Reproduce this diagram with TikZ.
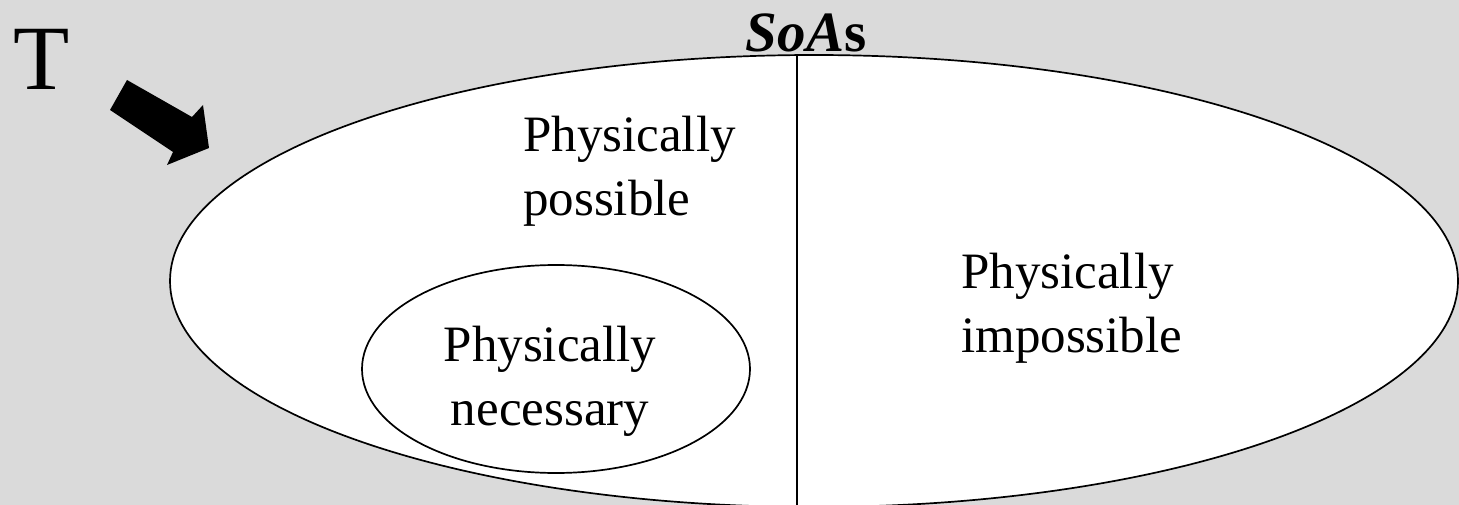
\documentclass[tikz,border=0pt]{standalone}
\usepackage{fontspec}
\setmainfont{Liberation Serif}
\usetikzlibrary{shapes.geometric}
\definecolor{bggray}{RGB}{218,218,218}
\tikzset{
  region/.style={ellipse, draw=black, line width=1.7pt, fill=white, inner sep=0pt},
  lbl/.style={inner sep=0pt, font=\fontsize{51}{64}\selectfont},
  divider/.style={draw=black, line width=1.7pt},
  blockarrow/.style={fill=black, draw=none}
}
\begin{document}
\begin{tikzpicture}[x=1pt,y=-1pt]
\fill[bggray] (0,0) rectangle (1459,505);
\useasboundingbox (0,0) rectangle (1459,505);
\begin{scope}
\clip (0,0) rectangle (1459,505);
\node[region, minimum width=1288pt, minimum height=452pt] (soas) at (814,281) {};
\coordinate (vtop) at (797,56);
\coordinate (vbot) at (797,506);
\draw[divider] (vtop) -- (vbot);
\node[region, minimum width=388pt, minimum height=208pt] (nec) at (556,369) {};
\end{scope}
\node[lbl, align=center, anchor=base] (necl) at (550,425) {Physically\\necessary};
\node[lbl, align=left, anchor=base west] (posl) at (523,215) {Physically\\possible};
\node[lbl, align=left, anchor=base west] (impl) at (961,352) {Physically\\impossible};
\node[inner sep=0pt, font=\fontsize{57}{64}\selectfont\bfseries, anchor=base] (title) at (806,52) {\textit{SoA}s};
\node[inner sep=0pt, font=\fontsize{92}{100}\selectfont, anchor=base] (tlab) at (42,90) {T};
\path[blockarrow] (110,110) -- (127,80) -- (192,117) -- (203,105) -- (209,148) -- (167,165) -- (173,152) -- cycle;
\end{tikzpicture}
\end{document}
